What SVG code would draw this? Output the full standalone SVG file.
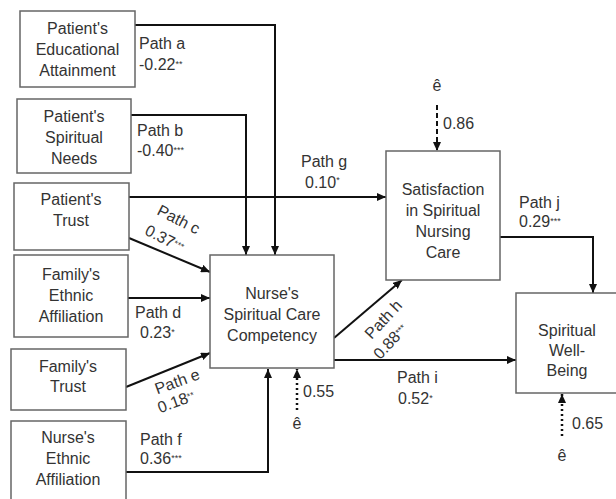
<svg xmlns="http://www.w3.org/2000/svg" width="616" height="499" viewBox="0 0 616 499">
<defs>
<style>
.box{fill:#fff;stroke:#666;stroke-width:1.5}
.t{font-family:"Liberation Sans",Arial,sans-serif;font-size:16px;fill:#333}
.c{text-anchor:middle}
.ln{fill:none;stroke:#111;stroke-width:2}
.dot{fill:none;stroke:#111;stroke-width:2.5;stroke-dasharray:2 3}
.dash{fill:none;stroke:#111;stroke-width:2;stroke-dasharray:5 3}
.sup{font-size:9px}
</style>
<marker id="ah" markerUnits="userSpaceOnUse" markerWidth="9" markerHeight="8" refX="9" refY="4" viewBox="0 0 9 8" orient="auto">
<path d="M0,0 L9,4 L0,8 z" fill="#111"/>
</marker>
</defs>
<rect width="616" height="499" fill="#fff"/>
<g id="connectors">
<path class="ln" d="M135,25 H275 V255" marker-end="url(#ah)"/>
<path class="ln" d="M131,115 H246 V255" marker-end="url(#ah)"/>
<path class="ln" d="M129,197 H386" marker-end="url(#ah)"/>
<path class="ln" d="M129,238 L210,272" marker-end="url(#ah)"/>
<path class="ln" d="M128,298 H210" marker-end="url(#ah)"/>
<path class="ln" d="M126,387 L210,353" marker-end="url(#ah)"/>
<path class="ln" d="M126,472 H268 V369" marker-end="url(#ah)"/>
<path class="ln" d="M334,338 L402,280" marker-end="url(#ah)"/>
<path class="ln" d="M334,360 H516" marker-end="url(#ah)"/>
<path class="ln" d="M500,237 H593 V293" marker-end="url(#ah)"/>
<path class="dash" d="M437,105 V151" marker-end="url(#ah)"/>
<path class="dot" d="M297,410 V369" marker-end="url(#ah)"/>
<path class="dot" d="M562,436 V394" marker-end="url(#ah)"/>
</g>
<g id="labels">
<text class="t" x="139" y="49">Path a</text>
<text class="t" x="139" y="70">-0.22<tspan class="sup" dy="-3">**</tspan></text>
<text class="t" x="137" y="136">Path b</text>
<text class="t" x="137" y="156">-0.40<tspan class="sup" dy="-3">***</tspan></text>
<text class="t c" transform="translate(179,219) rotate(27)" x="0" y="6">Path c</text>
<text class="t c" transform="translate(165,238) rotate(27)" x="0" y="6">0.37<tspan class="sup" dy="-3">***</tspan></text>
<text class="t" x="135" y="318">Path d</text>
<text class="t" x="140" y="338">0.23<tspan class="sup" dy="-3">*</tspan></text>
<text class="t c" transform="translate(177,381) rotate(-20)" x="0" y="6">Path e</text>
<text class="t c" transform="translate(176,401) rotate(-20)" x="0" y="6">0.18<tspan class="sup" dy="-3">**</tspan></text>
<text class="t" x="140" y="445">Path f</text>
<text class="t" x="140" y="464">0.36<tspan class="sup" dy="-3">***</tspan></text>
<text class="t" x="301" y="167">Path g</text>
<text class="t" x="305" y="188">0.10<tspan class="sup" dy="-5">*</tspan></text>
<text class="t c" transform="translate(383,319) rotate(-47)" x="0" y="6">Path h</text>
<text class="t c" transform="translate(390,341) rotate(-47)" x="0" y="6">0.88<tspan class="sup" dy="-3">***</tspan></text>
<text class="t" x="397" y="383">Path i</text>
<text class="t" x="398" y="404">0.52<tspan class="sup" dy="-3">*</tspan></text>
<text class="t" x="519" y="208">Path j</text>
<text class="t" x="519" y="227">0.29<tspan class="sup" dy="-3">***</tspan></text>
<text class="t c" x="437" y="91">ê</text>
<text class="t" x="443" y="129">0.86</text>
<text class="t" x="303" y="397">0.55</text>
<text class="t c" x="297" y="429">ê</text>
<text class="t" x="572" y="429">0.65</text>
<text class="t c" x="562" y="461">ê</text>
</g>
<g id="n1"><rect class="box" x="20" y="11" width="115" height="76"/>
<text class="t c" x="77.5" y="34">Patient's</text><text class="t c" x="77.5" y="55">Educational</text><text class="t c" x="77.5" y="76">Attainment</text></g>
<g id="n2"><rect class="box" x="17" y="99" width="114" height="74"/>
<text class="t c" x="74" y="122">Patient's</text><text class="t c" x="74" y="143">Spiritual</text><text class="t c" x="74" y="164">Needs</text></g>
<g id="n3"><rect class="box" x="14" y="183" width="115" height="67"/>
<text class="t c" x="71" y="205">Patient's</text><text class="t c" x="71" y="226">Trust</text></g>
<g id="n4"><rect class="box" x="14" y="255" width="114" height="82"/>
<text class="t c" x="71" y="280">Family's</text><text class="t c" x="71" y="301">Ethnic</text><text class="t c" x="71" y="322">Affiliation</text></g>
<g id="n5"><rect class="box" x="11" y="349" width="115" height="61"/>
<text class="t c" x="68" y="372">Family's</text><text class="t c" x="68" y="392">Trust</text></g>
<g id="n6"><rect class="box" x="11" y="421" width="115" height="90"/>
<text class="t c" x="68" y="443">Nurse's</text><text class="t c" x="68" y="464">Ethnic</text><text class="t c" x="68" y="485">Affiliation</text></g>
<g id="n7"><rect class="box" x="210" y="255" width="124" height="113"/>
<text class="t c" x="272" y="299">Nurse's</text><text class="t c" x="272" y="320">Spiritual Care</text><text class="t c" x="272" y="341">Competency</text></g>
<g id="n8"><rect class="box" x="386" y="151" width="114" height="129"/>
<text class="t c" x="443" y="195">Satisfaction</text><text class="t c" x="443" y="216">in Spiritual</text><text class="t c" x="443" y="237">Nursing</text><text class="t c" x="443" y="258">Care</text></g>
<g id="n9"><rect class="box" x="516" y="293" width="104" height="100"/>
<text class="t c" x="567" y="336">Spiritual</text><text class="t c" x="567" y="356">Well-</text><text class="t c" x="567" y="376">Being</text></g>
</svg>
